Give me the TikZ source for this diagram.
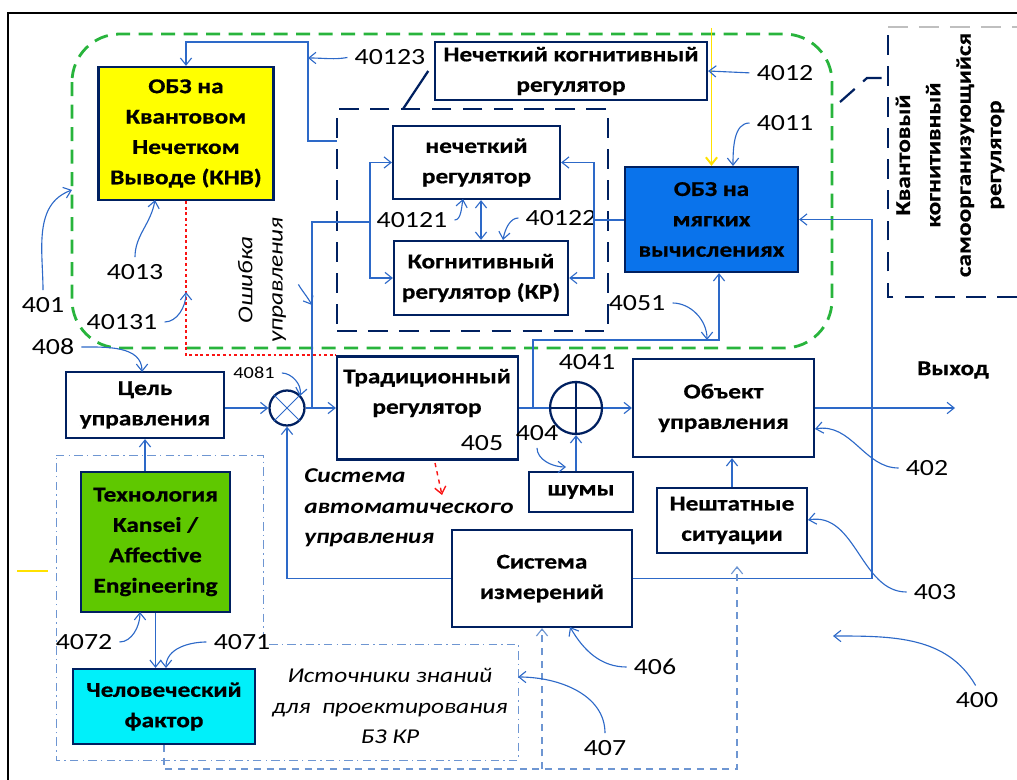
\documentclass[tikz,border=0pt]{standalone}
\usepackage{fontspec}
\setmainfont{Carlito}[FakeStretch=1.2, BoldFeatures={FakeBold=0.6}]
\usetikzlibrary{arrows.meta}

\definecolor{navy}{RGB}{0,32,96}
\definecolor{lblue}{RGB}{45,105,200}
\definecolor{pblue}{RGB}{110,150,210}
\definecolor{gdash}{RGB}{40,180,60}
\definecolor{kyel}{RGB}{255,255,0}
\definecolor{ksoft}{RGB}{10,115,235}
\definecolor{kgreen}{RGB}{95,200,0}
\definecolor{kcyan}{RGB}{0,240,250}
\definecolor{kred}{RGB}{250,20,20}
\definecolor{kline}{RGB}{255,225,0}

\begin{document}
\fontsize{15}{21.6}\selectfont
\begin{tikzpicture}[x=0.025cm, y=-0.025cm, >={Straight Barb[length=5pt,width=8pt]},
  wh/.style 2 args={minimum width=#1*0.025cm, minimum height=#2*0.025cm},
  b/.style={draw=navy, line width=1.6pt, fill=white, align=center, inner sep=1pt, font=\bfseries},
  o/.style={circle, draw=navy, line width=1.6pt, fill=white, inner sep=0pt},
  l/.style={inner sep=3pt, font=\fontsize{16.5}{20}\selectfont},
  w/.style={draw=lblue, line width=0.8pt},
  a/.style={w, ->, shorten <=2pt},
  g/.style={draw=navy, line width=1.6pt, dash pattern=on 14pt off 8pt},
  pd/.style={draw=pblue, line width=0.7pt, dash pattern=on 6pt off 3pt on 1pt off 3pt},
  pl/.style={draw=pblue, line width=0.8pt, dash pattern=on 5pt off 4pt}]

\useasboundingbox (0,0) rectangle (1017,780);
\draw[line width=2pt] (8,780) -- (8,13) -- (1017,13);

\draw[draw=gdash, line width=2pt, dash pattern=on 10pt off 6pt, rounded corners=1.2cm] (72,34) rectangle (832,348);
\draw[pd] (56,455) -- (263,455) -- (263,644) -- (518,644) -- (518,760) -- (56,760) -- cycle;

\draw[g] (1017,297) -- (888,297) -- (888,27);
\draw[g, draw=gray!50] (888,27) -- (1017,27);
\draw[g] (840,102) -- (867,78) -- (888,78);
\node[font=\bfseries, rotate=90, align=center] (kks) at (950,155) {Квантовый\\когнитивный\\самоорганизующийся\\регулятор};

\coordinate (g1) at (337,141);
\coordinate (ytop) at (711.5,28);
\coordinate (e0) at (312,408);
\coordinate (e1) at (370,222);
\coordinate (e2) at (594,220);
\coordinate (b1) at (533,408);
\coordinate (c4051) at (719,340);
\coordinate (r1) at (872,578.5);
\coordinate (yout) at (955,408);
\coordinate (d1) at (737,769);
\coordinate (d2) at (542,769);
\coordinate (d3) at (737,566);
\coordinate (s1) at (403,109);
\coordinate (rd1) at (435,463);
\coordinate (rd2) at (442,495);
\coordinate (serr) at (297,282);
\coordinate (terr) at (312,305);

\node[g, wh={271}{222}] (grp) at (472.5,220) {};
\node[b, fill=kyel, wh={175}{133}] (knv) at (186,133.5) {ОБЗ на\\Квантовом\\Нечетком\\Выводе (КНВ)};
\node[b, wh={272}{58}] (nkr) at (571,71) {Нечеткий когнитивный\\регулятор};
\node[b, wh={167}{73}] (nreg) at (476.5,162.5) {нечеткий\\регулятор};
\node[b, wh={174}{74}] (kr) at (481,278) {Когнитивный\\регулятор (КР)};
\node[b, fill=ksoft, wh={173}{105}] (soft) at (711.5,219.5) {ОБЗ на\\мягких\\вычислениях};
\node[b, wh={158}{66}] (goal) at (145,405) {Цель\\управления};
\node[o, minimum size=35*0.025cm] (mult) at (287,408) {};
\node[b, wh={181}{103}] (trad) at (427.5,408) {};
\node[font=\bfseries, align=center] (tradtxt) at (427,393) {Традиционный\\регулятор};
\node[o, minimum size=52*0.025cm] (sum) at (576,408) {};
\node[b, wh={104}{40}] (noise) at (581,492) {шумы};
\node[b, wh={181}{98}] (obj) at (723.5,408) {Объект\\управления};
\node[b, wh={150}{65}] (emerg) at (732,520.5) {Нештатные\\ситуации};
\node[b, wh={180}{97}] (meas) at (542,578.5) {Система\\измерений};
\node[b, fill=kgreen, wh={149}{140}] (tech) at (155.5,542) {Технология\\Kansei /\\Affective\\Engineering};
\node[b, fill=kcyan, wh={182}{75}] (human) at (164,706.5) {Человеческий\\фактор};

\draw[lblue, line width=0.6pt] (mult.north east) -- (mult.south west) (mult.north west) -- (mult.south east);
\draw[navy, line width=1.2pt] (sum.north) -- (sum.south) (sum.west) -- (sum.east);

\node[font=\itshape, rotate=90, align=center] (err) at (262,280) {Ошибка\\управления};
\node[font=\bfseries\itshape, align=left, anchor=west] (sau) at (297,508) {Система\\автоматического\\управления};
\node[font=\itshape, align=center] (src) at (390,706) {Источники знаний\\для~~проектирования\\БЗ КР};
\node[font=\bfseries] (vyh) at (953,370) {Выход};

\node[l] (n401) at (43,305) {401};
\node[l] (n408) at (53,347) {408};
\node[l] (n4013) at (135,272) {4013};
\node[l] (n40131) at (122,322) {40131};
\node[l] (n40123) at (390,57) {40123};
\node[l] (n4012) at (785,73) {4012};
\node[l] (n4011) at (785,123) {4011};
\node[l] (n40121) at (412,220) {40121};
\node[l] (n40122) at (561,218) {40122};
\node[l] (n4051) at (637,303) {4051};
\node[l, font=\fontsize{12}{14}\selectfont] (n4081) at (254,373) {4081};
\node[l] (n4041) at (587,362) {4041};
\node[l] (n404) at (537,433) {404};
\node[l] (n405) at (482,443) {405};
\node[l] (n402) at (927,468) {402};
\node[l] (n403) at (935,592) {403};
\node[l] (n406) at (655,667) {406};
\node[l] (n407) at (605,748) {407};
\node[l] (n400) at (977,700) {400};
\node[l] (n4072) at (84,642) {4072};
\node[l] (n4071) at (242,642) {4071};

\coordinate (t401) at (72,190);
\coordinate (t4013) at (155,200);
\coordinate (t40131) at (186,292);
\coordinate (t40123) at (308,58);
\coordinate (t4011) at (733,166);
\coordinate (t40121) at (463,199);
\coordinate (t40122) at (503,240);
\coordinate (t4051) at (707,340);
\coordinate (t4081) at (300,396);
\coordinate (t404) at (566,467);
\coordinate (t402) at (815,429);
\coordinate (t403) at (808,520);
\coordinate (t406) at (570,627);
\coordinate (t407) at (518,677);
\coordinate (t400) at (833,636);
\coordinate (t4072) at (140,612);
\coordinate (t4071) at (166,668);
\coordinate (t408) at (142,372);

\draw[w, ->] (g1) -| (308,42) -| (knv.north);
\draw[kline, line width=1.4pt, ->] (ytop) -- (soft.north);
\draw[navy, line width=1.6pt] ([xshift=-4pt]nkr.west) -- (s1);
\draw[w] (e0) |- (e1);
\draw[w, ->] (e1) |- (nreg.west);
\draw[w, ->] (e1) |- (kr.west);
\draw[w] (soft.west |- e2) -- (e2);
\draw[w, ->] (e2) |- (nreg.east);
\draw[w, ->] (e2) |- (kr.east);
\draw[w, <->] (kr.north) -- (kr.north |- nreg.south);
\draw[w, ->] (goal.east |- mult) -- (mult);
\draw[w, ->] (mult) -- (trad);
\draw[w] (trad) -- (sum);
\draw[w, ->] (sum) -- (obj);
\draw[w, ->] (obj) -- (yout);
\draw[w, ->] (noise.north -| sum) -- (sum);
\draw[w, ->] (emerg.north) -- (emerg.north |- obj.south);
\draw[w, ->] (meas.east) -- (r1) |- (soft.east);
\draw[w, ->] (meas.west) -| (mult.south);
\draw[w, ->] (b1) |- (c4051) -- (c4051 |- soft.south);
\draw[w, ->] (tech.north -| goal) -- (goal.south);
\draw[w, ->] (tech.south) -- (tech.south |- human.north);
\draw[kred, line width=1.4pt, dash pattern=on 2pt off 2pt] (knv.south) |- (trad.north west);
\draw[kred, line width=1pt, dashed, ->] (rd1) -- (rd2);
\draw[pl, ->] (human.south) |- (d1) -- (d3);
\draw[pl, ->] (d2) -- (meas.south);
\draw[kline, line width=1.4pt] (17,571) -- (48,571);

\draw[a] (n40123.west) to[out=190,in=0] (t40123);
\draw[a] (n4012.west) -- (nkr.east);
\draw[a] (n4011.west) to[out=180,in=90] (t4011);
\draw[a] (n40121.east) to[out=0,in=-100] (t40121);
\draw[a] (n40122.west) to[out=180,in=80] (t40122);
\draw[a] (n4013.north) to[out=90,in=-100] (t4013);
\draw[a] (n40131.east) to[out=0,in=-90] (t40131);
\draw[a] (n401.north) to[out=90,in=200] (t401);
\draw[a] (n408.east) to[out=0,in=90] (t408);
\draw[a] (n4081.east) to[out=0,in=80] (t4081);
\draw[a] (n4051.east) to[out=0,in=90] (t4051);
\draw[a] (n404.south) to[out=-90,in=180] (t404);
\draw[a] (n402.west) to[out=180,in=10] (t402);
\draw[a] (n403.west) to[out=180,in=10] (t403);
\draw[a] (n406.west) to[out=180,in=-60] (t406);
\draw[a] (n407.north) to[out=90,in=0] (t407);
\draw[a] (n400.north) to[out=120,in=0] (t400);
\draw[a] (n4072.east) to[out=0,in=-90] (t4072);
\draw[a] (n4071.west) to[out=180,in=90] (t4071);
\draw[a] (serr) to[out=-60,in=120] (terr);
\end{tikzpicture}
\end{document}
